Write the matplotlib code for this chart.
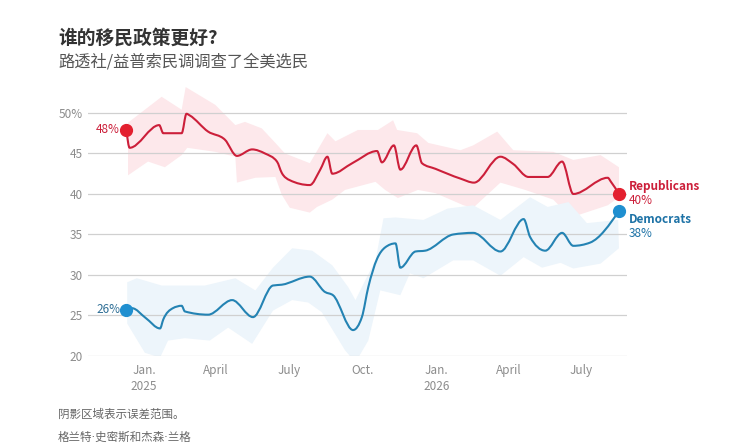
import numpy as np
import pandas as pd
import matplotlib
matplotlib.use("Agg")
from matplotlib import pyplot as plt
import matplotlib.dates as mdates
from matplotlib.path import Path
from matplotlib.patches import PathPatch

plt.rcParams['font.family'] = ['Noto Sans CJK SC', 'DejaVu Sans']

# poll averages
rep_dates = ["2024-12-10", "2024-12-14", "2025-01-20", "2025-01-25", "2025-02-17", "2025-02-23",
             "2025-02-27", "2025-03-22", "2025-04-12", "2025-04-27", "2025-05-16", "2025-06-01",
             "2025-06-16", "2025-06-22", "2025-07-02", "2025-07-27", "2025-08-09", "2025-08-18",
             "2025-08-24", "2025-09-18", "2025-10-19", "2025-10-25", "2025-11-09", "2025-11-17",
             "2025-12-07", "2025-12-14", "2025-12-31", "2026-01-31", "2026-02-17", "2026-03-22",
             "2026-04-07", "2026-04-26", "2026-05-20", "2026-06-07", "2026-06-21", "2026-08-03",
             "2026-08-07", "2026-08-17"]
rep_vals = [47.9, 45.7, 48.5, 47.5, 47.5, 49.9,
            49.7, 47.7, 46.7, 44.7, 45.5, 45.0,
            44.0, 42.6, 41.7, 41.1, 43.0, 44.6,
            42.5, 43.8, 45.3, 43.9, 46.0, 43.0,
            46.0, 43.8, 43.1, 41.9, 41.4, 44.6,
            43.7, 42.1, 42.1, 44.0, 40.0, 42.0,
            41.5, 40.0]

dem_dates = ["2024-12-10", "2024-12-17", "2025-01-03", "2025-01-21", "2025-01-25", "2025-02-06",
             "2025-02-17", "2025-02-21", "2025-03-22", "2025-04-21", "2025-05-17", "2025-06-11",
             "2025-06-22", "2025-07-27", "2025-08-15", "2025-08-25", "2025-09-19", "2025-09-30",
             "2025-10-08", "2025-10-19", "2025-10-29", "2025-11-11", "2025-11-17", "2025-12-06",
             "2025-12-18", "2026-01-22", "2026-02-16", "2026-03-22", "2026-04-20", "2026-04-28",
             "2026-05-17", "2026-06-07", "2026-06-21", "2026-07-12", "2026-08-17"]
dem_vals = [25.7, 25.9, 24.7, 23.4, 24.5, 25.9,
            26.2, 25.5, 25.1, 26.9, 24.8, 28.7,
            28.8, 29.8, 27.9, 27.5, 23.2, 24.8,
            28.5, 32.0, 33.4, 33.9, 30.9, 32.9,
            33.0, 35.0, 35.2, 32.9, 36.9, 34.7,
            33.0, 35.2, 33.6, 34.0, 37.9]

# margin of error bands
rep_up_dates = ["2024-12-12", "2025-01-23", "2025-02-17", "2025-02-22", "2025-03-31", "2025-04-25",
                "2025-05-07", "2025-05-28", "2025-06-14", "2025-06-26", "2025-07-27", "2025-08-18",
                "2025-08-28", "2025-09-25", "2025-10-20", "2025-11-08", "2025-11-13", "2025-12-08",
                "2025-12-22", "2026-01-31", "2026-02-16", "2026-03-18", "2026-04-07", "2026-05-27",
                "2026-06-21", "2026-07-25", "2026-08-17"]
rep_up = [48.8, 52.0, 50.4, 53.2, 51.0, 48.5,
          48.9, 48.1, 46.3, 45.0, 43.8, 47.5,
          46.5, 47.9, 47.9, 49.1, 47.9, 47.5,
          46.3, 45.4, 46.0, 47.7, 45.4, 45.2,
          44.2, 44.8, 43.3]
rep_lo_dates = ["2024-12-12", "2025-01-06", "2025-01-27", "2025-02-17", "2025-02-24", "2025-03-31",
                "2025-04-25", "2025-04-27", "2025-05-20", "2025-06-14", "2025-06-22", "2025-07-02",
                "2025-07-27", "2025-08-05", "2025-08-24", "2025-09-09", "2025-10-17", "2025-10-29",
                "2025-11-14", "2025-12-09", "2025-12-31", "2026-02-04", "2026-02-16", "2026-03-22",
                "2026-04-22", "2026-05-27", "2026-06-18", "2026-08-03", "2026-08-17"]
rep_lo = [42.3, 44.0, 43.3, 44.8, 45.7, 45.2,
          44.6, 41.4, 42.0, 42.1, 39.9, 38.3,
          37.7, 38.4, 39.3, 40.5, 41.5, 40.5,
          39.5, 40.5, 40.1, 38.6, 38.3, 41.4,
          40.5, 39.3, 37.1, 38.6, 39.6]

dem_up_dates = ["2024-12-11", "2024-12-23", "2025-01-23", "2025-02-21", "2025-03-18", "2025-04-25",
                "2025-05-20", "2025-06-11", "2025-07-05", "2025-07-30", "2025-08-24", "2025-09-13",
                "2025-09-22", "2025-10-04", "2025-10-17", "2025-10-27", "2025-11-11", "2025-12-16",
                "2026-01-15", "2026-02-16", "2026-03-22", "2026-04-28", "2026-05-20", "2026-06-15",
                "2026-07-08", "2026-08-16"]
dem_up = [29.1, 29.6, 28.7, 28.7, 28.7, 29.6,
          28.1, 30.9, 33.3, 33.0, 31.2, 28.5,
          26.9, 29.3, 31.8, 37.0, 37.1, 36.8,
          38.2, 38.6, 36.8, 39.6, 38.4, 39.0,
          36.4, 36.8]
dem_lo_dates = ["2024-12-11", "2025-01-02", "2025-01-21", "2025-01-31", "2025-02-21", "2025-03-24",
                "2025-04-16", "2025-05-16", "2025-06-11", "2025-07-05", "2025-07-25", "2025-08-11",
                "2025-09-09", "2025-09-22", "2025-10-08", "2025-10-23", "2025-11-17", "2025-11-29",
                "2025-12-16", "2026-01-22", "2026-02-16", "2026-03-22", "2026-04-20", "2026-05-13",
                "2026-06-05", "2026-06-21", "2026-07-25", "2026-08-17"]
dem_lo = [24.0, 20.4, 19.8, 21.9, 22.2, 21.9,
          23.5, 21.5, 25.6, 26.9, 26.6, 25.4,
          20.7, 19.2, 21.9, 28.1, 27.5, 30.2,
          29.6, 31.8, 31.8, 29.9, 32.2, 30.9,
          31.5, 30.8, 31.4, 33.3]

y_ticks = [20, 25, 30, 35, 40, 45, 50]
y_labels = ["20", "25", "30", "35", "40", "45", "50%"]
x_ticks = ["2025-01-01", "2025-04-01", "2025-07-01", "2025-10-01", "2026-01-01", "2026-04-01", "2026-07-01"]
x_labels = ["Jan.\n2025", "April", "July", "Oct.", "Jan.\n2026", "April", "July"]

red_line = '#cc1f3a'
red_dot = '#e3202f'
red_band = '#fde8eb'
blue_line = '#2483b3'
blue_dot = '#1f8fd0'
blue_band = '#edf5fb'
grey = '#8c8c8c'


def d(lst):
    return mdates.date2num(pd.to_datetime(lst))


def monotone_path(x, y):
    # smooth monotone-x curve through the points (like d3.curveMonotoneX)
    x = np.asarray(x, float)
    y = np.asarray(y, float)
    n = len(x)
    h = np.diff(x)
    s = np.diff(y) / h
    t = np.zeros(n)
    for i in range(1, n - 1):
        p = (s[i - 1] * h[i] + s[i] * h[i - 1]) / (h[i - 1] + h[i])
        t[i] = (np.sign(s[i - 1]) + np.sign(s[i])) * min(abs(s[i - 1]), abs(s[i]), 0.5 * abs(p))
    t[0] = (3 * s[0] - t[1]) / 2
    t[-1] = (3 * s[-1] - t[-2]) / 2
    verts = [(x[0], y[0])]
    codes = [Path.MOVETO]
    for i in range(n - 1):
        dx = h[i] / 3
        verts += [(x[i] + dx, y[i] + dx * t[i]), (x[i + 1] - dx, y[i + 1] - dx * t[i + 1]),
                  (x[i + 1], y[i + 1])]
        codes += [Path.CURVE4] * 3
    return Path(verts, codes)


fig = plt.figure(figsize=(7.48, 4.46), dpi=100)
ax = fig.add_axes([0.1176, 0.2018, 0.7206, 0.6085])

# bands
ax.fill(np.concatenate([d(rep_up_dates), d(rep_lo_dates)[::-1]]),
        np.concatenate([rep_up, rep_lo[::-1]]), color=red_band, lw=0, zorder=1)
ax.fill(np.concatenate([d(dem_up_dates), d(dem_lo_dates)[::-1]]),
        np.concatenate([dem_up, dem_lo[::-1]]), color=blue_band, lw=0, zorder=1)

for yt in y_ticks:
    ax.axhline(yt, color='#d0d0d0', lw=0.9, zorder=2)

rx = d(rep_dates)
dx = d(dem_dates)
ax.add_patch(PathPatch(monotone_path(rx, rep_vals), fill=False, edgecolor=red_line,
                       lw=1.5, zorder=3, capstyle='round', joinstyle='round'))
ax.add_patch(PathPatch(monotone_path(dx, dem_vals), fill=False, edgecolor=blue_line,
                       lw=1.5, zorder=3, capstyle='round', joinstyle='round'))

# end points
ax.plot([rx[0], rx[-1]], [rep_vals[0], rep_vals[-1]], 'o', color=red_dot, ms=8.5, zorder=4)
ax.plot([dx[0], dx[-1]], [dem_vals[0], dem_vals[-1]], 'o', color=blue_dot, ms=8.5, zorder=4)

ax.text(rx[0] - 8, rep_vals[0], "%d%%" % round(rep_vals[0]), color=red_line, fontsize=8.5,
        ha='right', va='center')
ax.text(dx[0] - 8, dem_vals[0], "%d%%" % round(dem_vals[0]), color='#2f6f96', fontsize=8.5,
        ha='right', va='center')

ax.text(rx[-1] + 12, 40.9, "Republicans", color=red_line, fontsize=8.5, fontweight='bold',
        ha='left', va='center')
ax.text(rx[-1] + 12, 39.2, "%d%%" % round(rep_vals[-1]), color=red_line, fontsize=8.5,
        ha='left', va='center')
ax.text(dx[-1] + 12, 36.8, "Democrats", color='#1d72a6', fontsize=8.5, fontweight='bold',
        ha='left', va='center')
ax.text(dx[-1] + 12, 35.1, "%d%%" % round(dem_vals[-1]), color='#1d72a6', fontsize=8.5,
        ha='left', va='center')

ax.set_ylim(20, 53.5)
ax.set_xlim(d(["2024-10-23"])[0], d(["2026-08-27"])[0])
ax.set_yticks(y_ticks)
ax.set_yticklabels(y_labels)
ax.set_xticks(d(x_ticks))
ax.set_xticklabels(x_labels, linespacing=1.3)
ax.tick_params(length=0, colors=grey, labelsize=8.5)
ax.tick_params(axis='y', pad=4)
ax.tick_params(axis='x', pad=6)
for s in ax.spines.values():
    s.set_visible(False)
ax.patch.set_alpha(0)

fig.text(58 / 748, 1 - 38 / 446, "谁的移民政策更好?", fontsize=13.5, fontweight='bold',
         color='#333333', va='center')
fig.text(58 / 748, 1 - 62 / 446, "路透社/益普索民调调查了全美选民", fontsize=11.7,
         color='#555555', va='center')
fig.text(58 / 748, 1 - 414 / 446, "阴影区域表示误差范围。", fontsize=8.3,
         color='#666666', va='center')
fig.text(58 / 748, 1 - 437 / 446, "格兰特·史密斯和杰森·兰格", fontsize=8.3,
         color='#666666', va='center', family=['DejaVu Sans', 'Noto Sans CJK SC'])

plt.savefig('out.png', dpi=100)
